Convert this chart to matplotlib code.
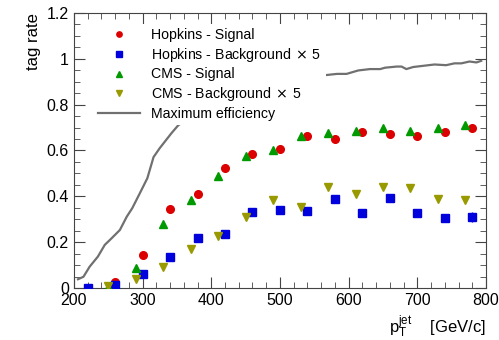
import matplotlib

matplotlib.use("Agg")
import matplotlib.pyplot as plt
from matplotlib.ticker import MultipleLocator

plt.rcParams["font.family"] = ["Liberation Sans", "DejaVu Sans"]

# Hopkins tagger
hop_pt = [220, 260, 300, 340, 380, 420, 460, 500, 540, 580, 620, 660, 700, 740, 780]
hop_sig = [None, 0.027, 0.145, 0.345, 0.41, 0.524, 0.585, 0.606, 0.661, 0.649, 0.681,
           0.672, 0.665, 0.68, 0.697]
hop_bkg = [0.0, 0.015, 0.061, 0.137, 0.217, 0.236, 0.333, 0.34, 0.335, 0.387, 0.327,
           0.392, 0.327, 0.307, 0.31]
hop_bkg_err = [0, 0, 0, 0, 0, 0, 0, 0, 0, 0, 0, 0, 0, 0, 0.02]

# CMS tagger
cms_pt = [250, 290, 330, 370, 410, 450, 490, 530, 570, 610, 650, 690, 730, 770]
cms_sig = [0.006, 0.086, 0.28, 0.386, 0.489, 0.575, 0.6, 0.661, 0.675, 0.683, 0.697,
           0.687, 0.699, 0.71]
cms_bkg = [0.009, 0.038, 0.09, 0.17, 0.226, 0.309, 0.384, 0.355, 0.442, 0.41, 0.44,
           0.435, 0.387, 0.383]

# maximum efficiency curve
max_pt = [206, 214, 223, 235, 245, 255, 267, 277, 285, 296, 307, 316, 325, 342, 352,
          380, 420, 460, 500, 540, 583, 597, 614, 631, 646, 653, 670, 677, 684, 694,
          708, 725, 742, 754, 764, 776, 786, 793]
max_eff = [0.038, 0.049, 0.093, 0.137, 0.188, 0.217, 0.253, 0.311, 0.348, 0.413, 0.479,
           0.571, 0.61, 0.675, 0.71, 0.77, 0.83, 0.87, 0.9, 0.92, 0.934, 0.934, 0.949,
           0.955, 0.955, 0.961, 0.966, 0.966, 0.955, 0.964, 0.969, 0.975, 0.972, 0.98,
           0.98, 0.988, 0.984, 0.991]

RED, BLUE, GREEN, OLIVE, GREY = "#dd0000", "#0000dd", "#009900", "#999900", "#707070"

fig = plt.figure(figsize=(4.99, 3.40), dpi=100)
ax = fig.add_axes([0.148, 0.153, 0.826, 0.809])

hs = [v if v is not None else float("nan") for v in hop_sig]
h1, = ax.plot(hop_pt, hs, "o", color=RED, ms=5.5, label="Hopkins - Signal", zorder=3)
ax.errorbar(hop_pt, hop_bkg, yerr=hop_bkg_err, fmt="none", ecolor=BLUE,
            elinewidth=1, capsize=0, zorder=3)
h2, = ax.plot(hop_pt, hop_bkg, "s", color=BLUE, ms=5.5,
              label="Hopkins - Background$\\,\\times\\,$5", zorder=3)
h3, = ax.plot(cms_pt, cms_sig, "^", color=GREEN, ms=5.5, label="CMS - Signal", zorder=3)
h4, = ax.plot(cms_pt, cms_bkg, "v", color=OLIVE, ms=5.5,
              label="CMS - Background$\\,\\times\\,$5", zorder=3)
h5, = ax.plot(max_pt, max_eff, "-", color=GREY, lw=1.6, label="Maximum efficiency",
              zorder=2)

ax.set_xlim(200, 800)
ax.set_ylim(0, 1.2)
ax.xaxis.set_major_locator(MultipleLocator(100))
ax.xaxis.set_minor_locator(MultipleLocator(20))
ax.yaxis.set_minor_locator(MultipleLocator(0.05))
ax.set_yticks([0, 0.2, 0.4, 0.6, 0.8, 1.0, 1.2])
ax.set_yticklabels(["0", "0.2", "0.4", "0.6", "0.8", "1", "1.2"])
ax.tick_params(which="both", direction="in", top=True, right=True, labelsize=11.5,
               color="#444444")
ax.tick_params(which="major", length=8)
ax.tick_params(which="minor", length=4)
for s in ax.spines.values():
    s.set_color("#444444")

ax.set_ylabel("tag rate", fontsize=12, loc="top", labelpad=4)
ax.set_xlabel("$\\mathregular{p_T^{jet}}$    [GeV/c]", fontsize=12, loc="right")

leg = ax.legend(handles=[h1, h2, h3, h4, h5], loc="upper left",
                bbox_to_anchor=(0.03, 0.985), fontsize=10.2, markerscale=0.7,
                frameon=True, framealpha=1, facecolor="white", edgecolor="none",
                fancybox=False, handlelength=3.0, handletextpad=0.8,
                labelspacing=0.25, borderpad=0.3)
leg.set_zorder(5)

fig.savefig("out.png", dpi=100)
